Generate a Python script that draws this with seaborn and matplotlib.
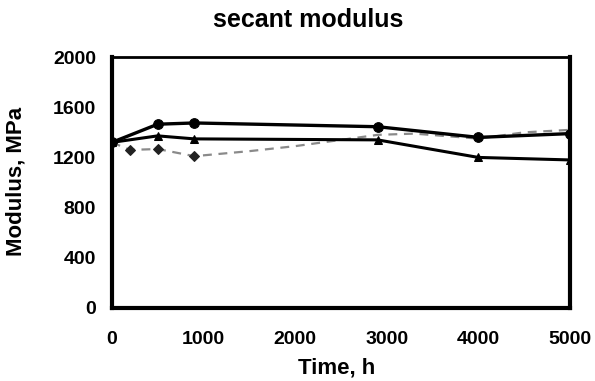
import matplotlib
matplotlib.use("Agg")
import matplotlib.pyplot as plt
import seaborn as sns
import pandas as pd

time_circle = [0, 500, 900, 2900, 4000, 5000]
mod_circle = [1320, 1465, 1475, 1445, 1360, 1390]

time_tri = [0, 500, 900, 2900, 4000, 5000]
mod_tri = [1320, 1372, 1348, 1340, 1200, 1180]

time_dia = [0, 200, 500, 900, 1500, 2000, 2900, 3300, 4000, 4500, 5000]
mod_dia = [1320, 1260, 1267, 1210, 1250, 1290, 1380, 1390, 1350, 1400, 1420]

x_ticks = [0, 1000, 2000, 3000, 4000, 5000]
y_ticks = [0, 400, 800, 1200, 1600, 2000]

sns.set_theme(style="white")
plt.rcParams['font.family'] = ['Liberation Sans', 'DejaVu Sans']
plt.rcParams['text.color'] = 'black'
plt.rcParams['axes.labelcolor'] = 'black'

fig = plt.figure(figsize=(5.95, 3.81), dpi=100)
ax = fig.add_axes([0.188, 0.192, 0.770, 0.658])

df_c = pd.DataFrame({"t": time_circle, "m": mod_circle})
df_t = pd.DataFrame({"t": time_tri, "m": mod_tri})
df_d = pd.DataFrame({"t": time_dia, "m": mod_dia})

sns.lineplot(data=df_d, x="t", y="m", ax=ax, color="#8a8a8a", lw=1.6,
             linestyle=(0, (4, 3)), marker="D", markersize=5,
             markeredgecolor="#222222", markerfacecolor="#222222",
             markevery=[0, 1, 2, 3])
sns.lineplot(data=df_t, x="t", y="m", ax=ax, color="black", lw=2.2,
             marker="^", markersize=6, markeredgecolor="black")
sns.lineplot(data=df_c, x="t", y="m", ax=ax, color="black", lw=2.4,
             marker="o", markersize=7, markeredgecolor="black")

ax.set_xlim(0, 5000)
ax.set_ylim(0, 2000)
ax.set_xticks(x_ticks)
ax.set_yticks(y_ticks)
ax.set_xticklabels([str(v) for v in x_ticks], fontsize=14, fontweight="bold", color="black")
ax.set_yticklabels([str(v) for v in y_ticks], fontsize=14, fontweight="bold", color="black")
ax.tick_params(axis="both", direction="inout", length=6, width=1.2, colors="black")
ax.tick_params(axis="x", pad=13.5)
ax.tick_params(axis="y", pad=8.5)
ax.set_xlabel("Time, h", fontsize=16, fontweight="bold", color="black")
ax.xaxis.set_label_coords(0.491, -0.199)
ax.set_ylabel("Modulus, MPa", fontsize=16, fontweight="bold", color="black")
ax.yaxis.set_label_coords(-0.186, 0.504)
fig.text(308 / 595, 1 - 27 / 381, "secant modulus", fontsize=18, fontweight="bold",
         ha="center", va="baseline", color="black")

for side in ["left", "bottom", "right"]:
    ax.spines[side].set_linewidth(3)
    ax.spines[side].set_color("black")
ax.spines["top"].set_linewidth(2)
ax.spines["top"].set_color("black")

fig.savefig("out.png", dpi=100, facecolor="white")
